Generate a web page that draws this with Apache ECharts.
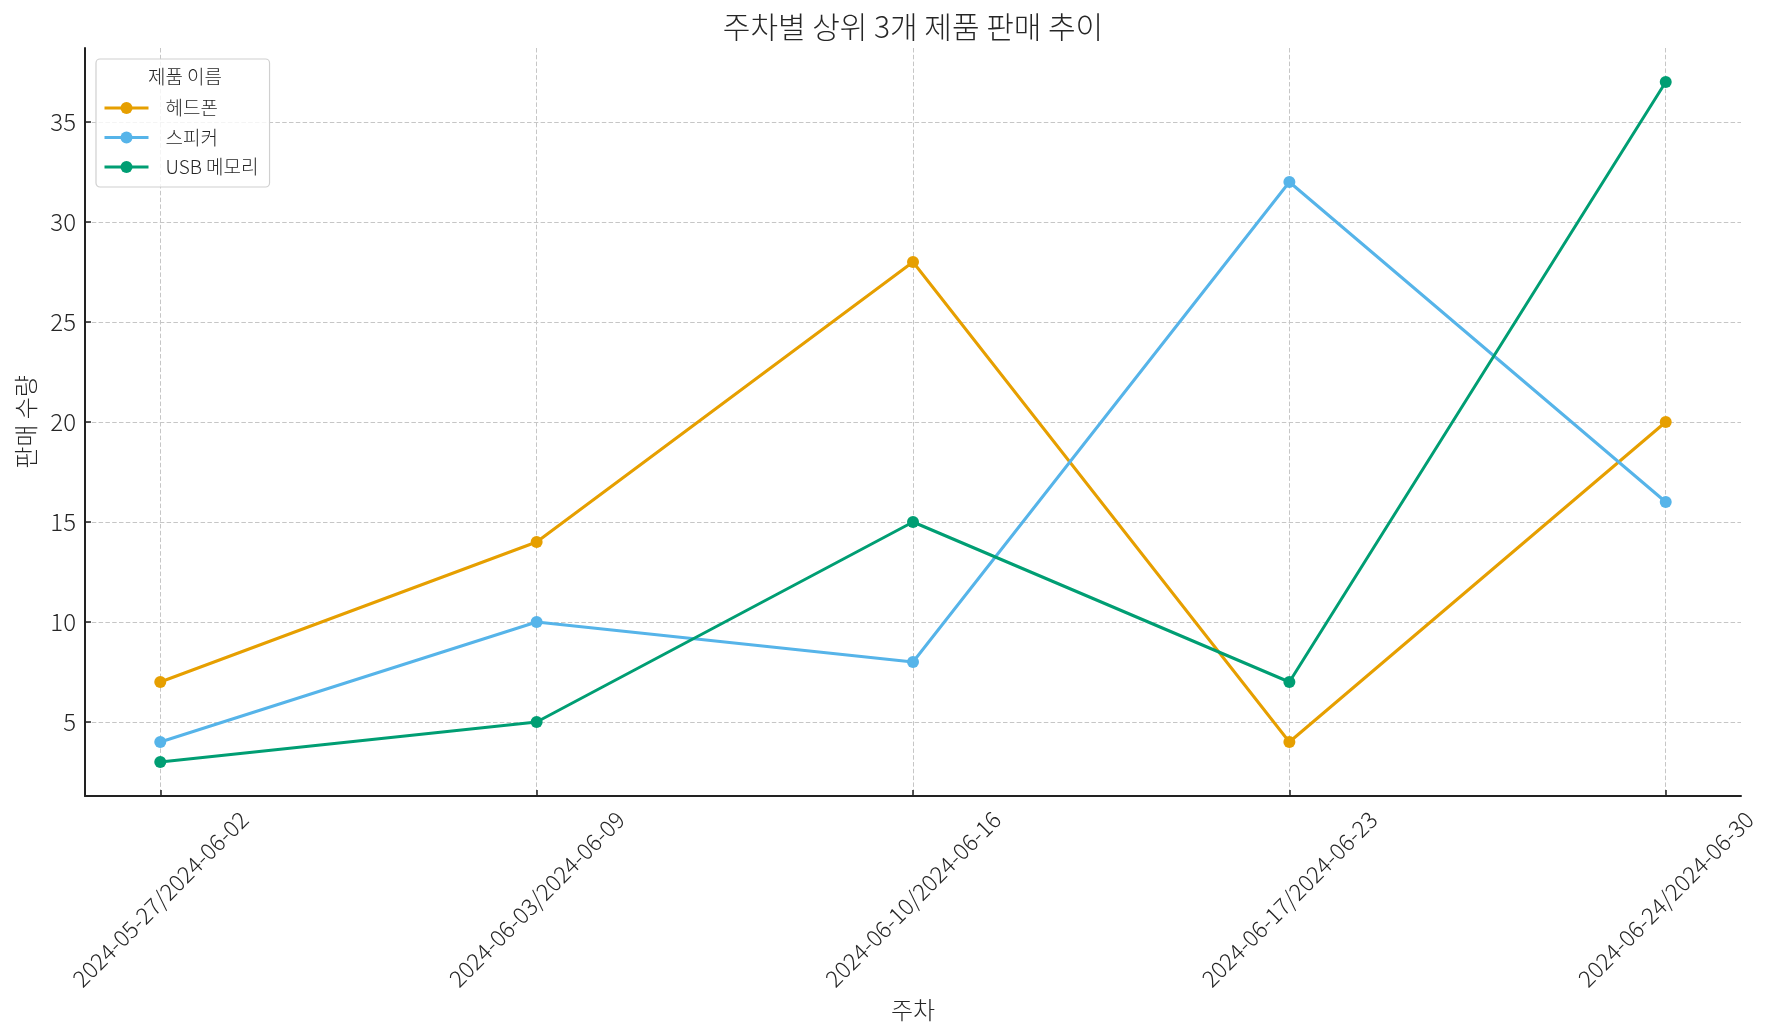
<!DOCTYPE html>
<html>
<head>
<meta charset="utf-8">
<script src="https://cdn.jsdelivr.net/npm/echarts@6/dist/echarts.min.js"></script>
<style>
  html, body { margin: 0; padding: 0; background: #fff; }
  #chart { width: 1773px; height: 1035px; }
</style>
</head>
<body>
<div id="chart"></div>
<script>
var weeks = ['2024-05-27/2024-06-02', '2024-06-03/2024-06-09', '2024-06-10/2024-06-16',
             '2024-06-17/2024-06-23', '2024-06-24/2024-06-30'];
var products = ['헤드폰', '스피커', 'USB 메모리'];
var headphones = [7, 14, 28, 4, 20];
var speakers = [4, 10, 8, 32, 16];
var usbMemory = [3, 5, 15, 7, 37];
var colors = ['#E69F00', '#56B4E9', '#009E73'];
var yTicks = [5, 10, 15, 20, 25, 30, 35];
var xTicks = [0, 1, 2, 3, 4];

var font = '"Noto Sans CJK KR", "Noto Sans", sans-serif';
var textColor = '#262626';
var weight = 300;

var chart = document.getElementById('chart');
var myChart = echarts.init(chart);

function toPoints(values) {
	return values.map(function (v, i) { return [i, v]; });
}

function makeSeries(name, values, color) {
	return {
		name: name,
		type: 'line',
		data: toPoints(values),
		symbol: 'circle',
		symbolSize: 12,
		color: color,
		lineStyle: { width: 3, color: color },
		itemStyle: { color: color },
		z: 3
	};
}

var gridLine = {
	show: true,
	lineStyle: { color: '#c6c6c6', width: 1, type: [4.5, 2.3] }
};

var option = {
	animation: false,
	textStyle: { fontFamily: font, fontWeight: weight },
	graphic: [
		{
			type: 'text',
			x: 913, y: 27,
			style: { text: '주차별 상위 3개 제품 판매 추이', font: weight + ' 30px ' + font, fill: textColor,
			         textAlign: 'center', textVerticalAlign: 'middle' }
		},
		{
			type: 'text',
			x: 185, y: 77,
			z: 10,
			style: { text: '제품 이름', font: weight + ' 19px ' + font, fill: textColor,
			         textAlign: 'center', textVerticalAlign: 'middle' }
		}
	],
	legend: {
		data: products,
		orient: 'vertical',
		left: 96,
		top: 59,
		padding: [39, 11, 10, 7],
		itemWidth: 44,
		itemHeight: 15,
		itemGap: 9.5,
		borderColor: '#d0d0d0',
		borderWidth: 1.2,
		borderRadius: 4,
		backgroundColor: 'rgba(255,255,255,0.8)',
		lineStyle: { width: 3 },
		textStyle: { fontSize: 19, lineHeight: 20, color: textColor, fontFamily: font, fontWeight: weight,
		             padding: [0, 0, 0, 12] }
	},
	grid: {
		left: 85,
		right: 32,
		top: 48,
		bottom: 239,
		containLabel: false
	},
	xAxis: {
		type: 'value',
		min: -0.2,
		max: 4.2,
		name: '주차',
		nameLocation: 'middle',
		nameGap: 212,
		nameTextStyle: { fontSize: 24, color: textColor, fontWeight: weight, verticalAlign: 'middle' },
		axisLine: { show: true, onZero: false, lineStyle: { color: '#222', width: 2 } },
		axisTick: { show: true, inside: true, length: 6, customValues: xTicks,
		            lineStyle: { color: '#222', width: 1.5 } },
		axisLabel: {
			customValues: xTicks,
			rotate: 45,
			align: 'center',
			verticalAlign: 'middle',
			margin: 103,
			fontSize: 23,
			fontWeight: weight,
			color: textColor,
			formatter: function (v) { return weeks[Math.round(v)]; }
		},
		splitLine: gridLine
	},
	yAxis: {
		type: 'value',
		min: 1.3,
		max: 38.7,
		name: '판매 수량',
		nameLocation: 'middle',
		nameRotate: 90,
		nameGap: 59,
		nameTextStyle: { fontSize: 24, color: textColor, fontWeight: weight, verticalAlign: 'middle' },
		axisLine: { show: true, onZero: false, lineStyle: { color: '#222', width: 2 } },
		axisTick: { show: true, inside: true, length: 6, customValues: yTicks,
		            lineStyle: { color: '#222', width: 1.5 } },
		axisLabel: { customValues: yTicks, fontSize: 24, fontWeight: weight, color: textColor, margin: 9 },
		splitLine: gridLine
	},
	series: [
		makeSeries(products[0], headphones, colors[0]),
		makeSeries(products[1], speakers, colors[1]),
		makeSeries(products[2], usbMemory, colors[2])
	]
};

myChart.setOption(option);
</script>
</body>
</html>
